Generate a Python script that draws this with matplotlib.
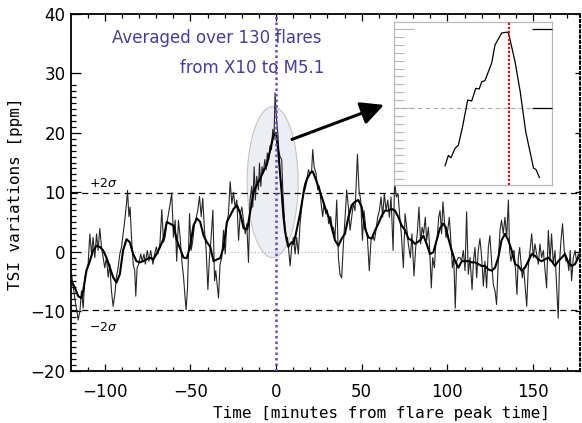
import matplotlib
matplotlib.use('Agg')
import matplotlib.pyplot as plt
from matplotlib.patches import Ellipse
from matplotlib.ticker import FixedLocator, MultipleLocator, NullFormatter

# ---------------- data ----------------
thin_t = [-119.4, -117.5, -115.5, -114.5, -113.6, -112.6, -111.6, -110.6, -109.7, -108.7,
          -107.7, -106.8, -105.8, -104.8, -103.9, -102.9, -101.9, -100.9, -100.0, -99.0,
          -98.0, -97.1, -96.1, -95.1, -94.1, -93.2, -92.2, -91.2, -90.2, -89.3,
          -88.3, -87.3, -86.7, -85.9, -85.2, -84.4, -83.4, -82.5, -81.9, -81.1,
          -80.2, -79.0, -78.2, -77.1, -76.3, -75.2, -74.2, -73.2, -71.9, -70.9,
          -69.9, -69.0, -67.8,
          -66.7, -65.7, -64.8, -63.8, -62.8, -61.8, -60.9, -59.9, -58.9, -58.0,
          -57.0, -56.0, -55.0, -54.0, -53.1, -52.5, -51.7, -50.5, -49.6, -48.6,
          -47.6, -46.7, -45.7, -44.7, -43.7, -42.8, -41.8, -40.8, -39.8, -38.9,
          -37.9, -36.9, -35.9, -35.2, -34.2, -33.6, -32.7, -31.7, -30.7, -29.7,
          -28.8, -27.8, -26.8, -25.8, -24.9, -23.9, -22.9, -21.9, -20.9, -20.0,
          -19.0, -18.0, -17.1,
          -16.1, -15.2, -14.2, -13.6, -12.8, -12.1, -11.3, -10.3, -9.7, -8.9,
          -8.2, -7.4, -6.6, -5.8, -5.1, -4.3, -3.5, -2.7, -1.9, -1.2,
          -0.6, 0.4, 1.0, 1.6, 2.3, 3.3, 3.9, 4.7, 5.6, 6.6,
          7.4, 8.2, 9.1, 10.1, 11.1, 12.0, 13.0, 14.0, 15.0, 16.0,
          16.9, 17.9, 18.9, 19.8, 20.8, 21.4, 22.2, 23.3, 24.3, 25.3,
          26.3, 27.2, 28.0, 29.0, 29.9, 30.7, 31.9, 32.7,
          33.4, 34.4, 35.4, 36.4, 37.3, 38.3, 39.3, 40.3, 41.2, 42.2,
          43.2, 44.1, 45.1, 46.1, 47.5, 48.4, 49.4, 50.4, 51.3, 52.3,
          53.3, 54.4, 55.4, 56.4, 57.4, 58.3, 59.3, 60.3, 61.3, 62.2,
          63.2, 64.2, 65.2, 66.1, 67.1, 68.3, 69.2, 70.2, 71.2, 72.2,
          73.1, 74.3, 75.3, 76.2, 77.2, 78.4, 79.3, 80.5, 81.5, 82.4,
          83.4, 84.4, 85.2, 86.1, 87.1, 87.9, 88.9, 89.6, 90.6, 91.4,
          92.4, 93.2, 94.1, 94.9, 95.7, 96.6, 97.4, 98.4, 99.2, 100.2,
          101.1, 101.9, 102.9, 103.7, 104.6, 105.4, 106.4, 107.4, 108.3, 109.3,
          110.3, 111.2, 112.2, 113.2, 114.4, 115.2, 116.1, 117.1, 118.0, 119.0,
          120.0, 121.0, 121.9, 122.9, 123.9, 124.8, 125.8, 126.8, 127.8,
          128.7, 129.7, 130.7, 131.6, 132.6, 133.6, 134.6, 135.6, 136.3, 137.1,
          137.9, 138.9, 139.8, 140.6, 141.4, 142.2, 142.9, 143.7, 144.5, 145.3,
          146.3, 147.2, 148.2, 149.2, 150.2, 151.1, 152.1, 153.1, 154.0, 155.0,
          156.0, 156.9, 157.9, 158.9, 159.9, 160.8, 161.8, 162.8, 163.7, 164.7,
          165.5, 166.3, 167.2, 168.2, 169.2, 170.2, 170.9, 171.7, 172.5, 173.5,
          174.5, 175.4, 176.4, 177.3]
thin_v = [-3.8, -7.8, -11.5, -10.0, -6.6, -9.5, -4.3, -3.2, -2.1, 3.0,
          -0.4, 2.4, -1.0, 3.0, 0.2, 3.9, 0.8, -1.0, -2.7, -1.0,
          -4.3, -2.1, -6.6, -9.2, -7.2, -4.3, -2.7, -0.4, 0.8, 3.0,
          5.3, 8.1, 10.3, 5.9, 7.5, 2.4, -2.1, -3.2, -7.5, -2.7,
          -2.1, -0.4, -1.6, -0.4, -2.1, 0.2, -1.6, 0.2, -2.1, -0.4,
          0.8, -0.4, 1.3,
          7.1, 1.6, 2.4, 4.7, 6.4, 8.1, 9.9, 2.4, 5.3, -1.6,
          5.3, 2.4, -1.6, -4.3, -7.8, -9.8, -6.1, 6.4, 0.2, 1.9,
          4.7, 5.6, 7.0, 9.3, 5.9, 9.0, 3.6, 0.2, -6.4, -1.0,
          2.4, 7.0, -4.9, -3.2, -6.1, -7.8, -2.1, -1.0, 3.6, -0.4,
          4.7, 6.4, 11.8, 8.1, 10.0, 7.5, 8.7, 1.9, 6.4, 7.5,
          5.3, 3.0, 4.7,
          -1.8, 8.7, 11.0, 7.5, 14.3, 8.7, 12.7, 10.4, 14.9, 11.0,
          14.3, 13.2, 15.5, 13.8, 16.6, 15.5, 17.8, 17.2, 20.6, 18.9,
          26.7, 21.7, 20.0, 16.9, 16.0, 15.5, 10.4, 6.4, 2.4, 2.4,
          0.2, -2.4, 0.8, 2.4, -0.4, 2.4, -0.4, 4.7, 7.5, 10.4,
          11.6, 12.1, 13.8, 13.0, 13.8, 17.2, 14.3, 13.2, 10.4, 11.0,
          8.1, 5.9, 8.1, 6.4, 7.0, 4.7, 5.9, 4.1,
          4.1, 2.4, 8.7, -1.0, -3.8, -4.4, 1.3, 5.8, 10.4, 7.5,
          3.6, 5.8, 8.1, 6.9, 16.4, 10.4, 8.7, 1.9, 6.9, 4.1,
          2.4, -3.2, 1.9, 2.7, 1.9, 3.6, 5.8, 6.9, 9.2, 5.8,
          9.8, 6.9, 8.7, 5.8, 9.2, 0.2, 11.8, 9.2, 9.8, 5.8,
          3.0, -2.7, 6.4, 4.1, 1.3, -1.0, 3.0, -4.1, 0.7, 3.0,
          7.5, 1.3, 4.1, 3.0, 5.8, 1.9, 4.1, 0.7, -6.1, -1.0,
          -2.7, 1.3, 2.4, 5.8, 6.9, 3.0, 8.4, 4.7, 2.4, 3.6,
          5.8, 2.4, -2.7, -1.0, -9.5, -1.6, -1.0, -1.0, -1.6, 0.2,
          -3.2, 6.7, -3.8, -1.0, -6.4, -1.6, 0.7, -4.4, 0.2, 2.2,
          -1.0, -5.8, -1.6, -6.1, 0.7, 2.7, -1.6, -5.5, -6.6,
          -8.9, -1.6, 3.6, 5.3, 3.0, 5.8, 2.4, 8.7, 0.2, -1.6,
          -0.4, 0.2, -3.2, -7.2, -1.0, 0.7, -1.6, -4.4, -2.7, -5.5,
          -9.2, -2.7, 0.2, 3.0, -1.0, 1.3, -0.4, -2.1, 1.3, -1.0,
          0.2, -2.7, -6.1, 3.6, -1.6, 3.0, -2.1, 0.2, -5.5, -11.2,
          -1.6, 1.9, 4.7, 0.2, -1.6, -1.6, -3.2, 0.2, -4.9, -1.0,
          0.2, -1.6, -0.4, -1.0]

thick_t = [-119.4, -117.5, -115.5, -113.6, -112.6, -110.7, -108.7, -106.8, -104.8, -102.9,
           -100.9, -99.0, -97.0, -95.1, -93.2, -91.2, -89.3, -87.3, -85.4, -83.4,
           -81.5, -79.5, -77.6, -75.6, -73.7, -71.7, -69.8, -67.7, -65.8, -63.8,
           -61.9, -59.9, -57.9, -56.0, -54.0, -52.1, -50.1, -48.2, -46.2, -44.3,
           -42.3, -40.4, -38.4, -36.5, -34.5, -32.6, -30.6, -28.7, -26.7, -24.8,
           -22.8, -20.9, -18.9, -16.8, -15.2, -13.2, -11.3, -9.3, -7.4, -5.4,
           -3.5, -1.6, 0.0, 1.4, 2.3, 3.3, 4.3, 5.2, 6.2, 7.2,
           8.2, 9.1, 10.1, 11.1, 12.0, 14.0, 16.0, 17.9, 19.8, 21.4,
           23.3, 25.3, 27.2, 29.1, 31.1, 32.6, 34.4, 36.4, 38.3, 40.2,
           42.2, 44.1, 46.1, 48.0, 50.0, 51.9, 53.9, 55.8, 57.8, 59.7,
           61.7, 63.6, 65.6, 67.5, 69.4, 71.4, 73.3, 75.3, 77.2, 79.2,
           81.1, 84.0, 86.0, 87.9, 89.8, 91.8, 93.7, 95.6, 97.6, 99.1,
           100.6, 102.5, 104.5, 106.4, 108.4, 110.3, 112.3, 114.2, 116.1, 118.1,
           120.0, 122.0, 123.9, 125.9, 127.8, 129.7, 131.6, 133.6, 135.6, 137.5,
           139.5, 141.4, 143.3, 145.3, 147.2, 149.2, 151.1, 153.1, 155.0, 157.0,
           158.9, 160.9, 162.8, 164.7, 166.7, 168.6, 170.6, 172.5, 174.5, 176.4]
thick_v = [-5.0, -6.0, -7.5, -7.8, -6.6, -3.2, -1.6, 0.2, 1.0, 0.8,
           0.2, -1.0, -2.7, -4.3, -5.2, -3.8, 0.2, 2.1, 1.6, -0.4,
           -1.6, -1.8, -1.6, -1.3, -1.0, -1.3, -0.4, 0.8, 2.1, 5.0,
           4.7, 4.4, 1.9, 0.5, -1.0, -1.1, 1.0, 4.4, 5.6, 5.0,
           2.7, 1.6, 0.8, -1.6, -1.3, -1.1, 0.8, 5.0, 6.1, 7.2,
           7.8, 6.4, 3.9, 3.8, 6.6, 10.0, 11.2, 12.3, 13.5, 14.6,
           17.0, 19.5, 20.0, 16.6, 13.2, 9.8, 5.9, 3.6, 1.9, 0.8,
           1.3, 1.6, 1.3, 2.4, 3.6, 6.4, 9.8, 12.1, 13.2, 13.5,
           12.1, 10.4, 8.7, 7.0, 5.6, 3.9, 1.9, 1.0, 2.2, 3.0,
           5.8, 7.8, 8.4, 8.7, 7.5, 3.9, 2.4, 2.2, 3.6, 4.7,
           6.1, 6.9, 6.9, 7.2, 6.9, 5.8, 4.4, 3.6, 2.2, 1.9,
           1.3, 1.9, 2.7, 1.3, -0.4, -0.1, 1.9, 3.9, 4.7, 4.1,
           2.2, 0.2, -1.6, -2.7, -1.6, -1.6, -1.6, -1.8, -1.8, -2.1,
           -2.4, -2.4, -3.0, -3.2, -2.7, -1.0, 1.9, 3.0, 1.9, 0.2,
           -2.1, -2.4, -3.2, -2.7, -1.6, -0.4, -0.7, -1.3, -1.6, -1.3,
           -1.0, -1.6, -2.4, -1.6, -1.0, -0.4, -1.8, -2.4, -2.1, -1.0]

inset_t = [-17.3, -16.4, -15.7, -14.6, -13.7, -12.5, -11.2, -10.1, -9.0, -8.1,
           -7.4, -6.5, -4.7, -3.8, -2.0, -0.8, -0.2, 1.6, 3.0, 4.5,
           6.6, 7.3, 8.2]
inset_v = [2.7, 4.0, 3.7, 4.9, 5.3, 7.8, 11.0, 10.9, 12.5, 12.4,
           13.3, 13.5, 15.7, 18.0, 19.5, 19.6, 19.6, 15.9, 12.1, 7.0,
           2.4, 2.2, 1.2]

sigma2 = 9.8
n_flares = 130
xticks = [-100, -50, 0, 50, 100, 150]
yticks = [-20, -10, 0, 10, 20, 30, 40]
ell_center = (-2.0, 11.7)
ell_size = (29.8, 25.4)
arrow_tail = (9.3, 18.9)
arrow_head = (63.0, 24.7)

purple = '#4a3b9c'

# ---------------- figure ----------------
W, H = 582, 423
fig = plt.figure(figsize=(W / 100, H / 100), dpi=100)
ax = fig.add_axes([71 / W, 1 - 370.5 / H, (580 - 71) / W, (370.5 - 14) / H])
ax.set_xlim(-119.7, 177.4)
ax.set_ylim(-20, 40)

ax.add_patch(Ellipse(ell_center, ell_size[0], ell_size[1], facecolor='#eceef4',
                     edgecolor='#c4c4c4', lw=0.8, zorder=1))

ax.axhline(0, color='#aaaad4', ls=(0, (1, 2)), lw=0.8, zorder=1.5)
ax.axhline(sigma2, color='black', ls=(0, (5, 3.5)), lw=0.9, zorder=1.5)
ax.axhline(-sigma2, color='black', ls=(0, (5, 3.5)), lw=0.9, zorder=1.5)

ax.plot(thin_t, thin_v, color='#262626', lw=0.8, zorder=2)
ax.plot(thick_t, thick_v, color='black', lw=1.5, zorder=3)

ax.axvline(0, color='#6a4bb8', ls=(0, (1, 1.2)), lw=1.8, zorder=4)

fig.text(322 / W, 1 - 38 / H, 'Averaged over %d flares' % n_flares, color=purple,
         fontsize=12, ha='right', va='center')
fig.text(324 / W, 1 - 68 / H, 'from X10 to M5.1', color=purple,
         fontsize=12, ha='right', va='center')
ax.text(-109, sigma2 + 1.6, r'+2$\sigma$', fontsize=9, ha='left', va='center')
ax.text(-109, -sigma2 - 2.9, r'$-$2$\sigma$', fontsize=9, ha='left', va='center')

ax.annotate('', xy=arrow_head, xytext=arrow_tail,
            arrowprops=dict(arrowstyle='-|>,head_length=1.0,head_width=0.5',
                            lw=2.2, color='black', shrinkA=0, shrinkB=0,
                            mutation_scale=14), zorder=6)

# spines & ticks
for s in ['left', 'bottom', 'top']:
    ax.spines[s].set_linewidth(1.3)
ax.spines['right'].set_linestyle((0, (1, 1.5)))
ax.spines['right'].set_linewidth(1.5)

ax.set_xticks(xticks)
ax.set_yticks(yticks)
ax.set_xticklabels(['\u2212100', '\u221250', '0', '50', '100', '150'])
ax.set_yticklabels(['\u221220', '\u221210', '0', '10', '20', '30', '40'])
ax.xaxis.set_minor_locator(MultipleLocator(10))
ax.yaxis.set_minor_locator(FixedLocator([v for v in range(-19, 29) if v % 10 != 0]))
ax.tick_params(axis='x', which='major', direction='in', length=5, width=0.9,
               top=True, bottom=True, labelsize=12, pad=9)
ax.tick_params(axis='x', which='minor', direction='in', length=3, width=0.9,
               top=True, bottom=True)
ax.tick_params(axis='y', which='major', direction='in', length=7.2, width=0.9,
               left=True, right=False, labelsize=12, pad=4)
ax.tick_params(axis='y', which='minor', direction='in', length=3.6, width=0.9,
               left=True, right=False)

axr = ax.twinx()
axr.set_ylim(-20, 40)
axr.set_yticks(yticks)
axr.yaxis.set_major_formatter(NullFormatter())
axr.tick_params(axis='y', direction='in', length=3.6, width=0.9, right=True, left=False)
for s in axr.spines.values():
    s.set_visible(False)

fig.text(381 / W, 1 - 413 / H, 'Time [minutes from flare peak time]',
         family='DejaVu Sans Mono', fontsize=11.5, ha='center', va='center')
fig.text(15.5 / W, 1 - 194 / H, 'TSI variations [ppm]', family='DejaVu Sans Mono',
         fontsize=11.5, ha='center', va='center', rotation=90)

# ---------------- inset ----------------
axi = fig.add_axes([394 / W, 1 - 185 / H, 158 / W, 163 / H], zorder=10)
axi.set_xlim(-31.1, 11.6)
axi.set_ylim(0.25, 20.9)
axi.plot(inset_t, inset_v, color='black', lw=0.9, zorder=3)
axi.axhline(10, color='#aaaaaa', ls=(0, (4, 3)), lw=0.8)
axi.axvline(0, color='#d01818', ls=(0, (1, 0.8)), lw=1.6, zorder=4)
for s in axi.spines.values():
    s.set_color('#b8b8b8')
    s.set_linewidth(0.9)
axi.set_xticks([])
axi.set_yticks([10, 20])
axi.yaxis.set_minor_locator(FixedLocator([v for v in range(1, 20) if v != 10]))
axi.yaxis.set_major_formatter(NullFormatter())
axi.tick_params(axis='y', which='major', direction='in', length=14.5, width=0.8,
                color='#b8b8b8', left=True, right=False)
axi.tick_params(axis='y', which='minor', direction='in', length=7, width=0.8,
                color='#b8b8b8', left=True, right=True)
axir = axi.twinx()
axir.set_ylim(0.25, 20.9)
axir.set_yticks([10, 20])
axir.yaxis.set_major_formatter(NullFormatter())
axir.tick_params(axis='y', direction='in', length=14.5, width=0.9, color='black',
                 right=True, left=False)
for s in axir.spines.values():
    s.set_visible(False)

fig.savefig('out.png', dpi=100)
